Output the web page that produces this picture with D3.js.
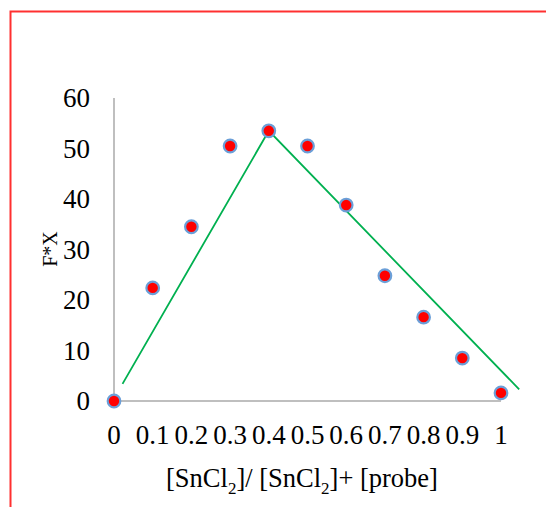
<!DOCTYPE html>
<html>
<head>
<meta charset="utf-8">
<style>
    body { margin: 0; background: white; }
    svg { display: block; font-family: 'Liberation Serif', 'Times New Roman', serif; }
</style>
</head>
<body>
<svg width="546" height="507"></svg>
<script src="https://d3js.org/d3.v7.min.js"></script>
<script>
    // measured points
    let xs = [0, 0.1, 0.2, 0.3, 0.4, 0.5, 0.6, 0.7, 0.8, 0.9, 1]
    let fx = [0, 22.4, 34.5, 50.5, 53.5, 50.5, 38.8, 24.8, 16.6, 8.5, 1.6]

    // fitted lines (start, peak, end)
    let fitX = [0.022, 0.4, 1.047]
    let fitY = [3.4, 53.5, 2.3]

    let yTicks = [0, 10, 20, 30, 40, 50, 60]
    let xTickLabels = ["0", "0.1", "0.2", "0.3", "0.4", "0.5", "0.6", "0.7", "0.8", "0.9", "1"]

    let svg = d3.select("svg")

    // red frame
    svg.append("path")
        .attr("d", "M10.5,507 L10.5,11.5 L546,11.5")
        .style("fill", "none")
        .style("stroke", "#ff3030")
        .style("stroke-width", 2)

    let x = d3.scaleLinear().domain([0, 1]).range([114, 501])
    let y = d3.scaleLinear().domain([0, 60]).range([401, 98])

    // axes
    svg.append("line")
        .attr("x1", x(0)).attr("x2", x(0))
        .attr("y1", y(0)).attr("y2", y(60))
        .style("stroke", "#bfbfbf").style("stroke-width", 2)

    svg.append("line")
        .attr("x1", x(0)).attr("x2", x(1))
        .attr("y1", y(0)).attr("y2", y(0))
        .style("stroke", "#bfbfbf").style("stroke-width", 2)

    svg.selectAll(".ytick")
        .data(yTicks)
        .join("text")
        .attr("x", 90)
        .attr("y", d => y(d))
        .attr("dy", "0.35em")
        .attr("text-anchor", "end")
        .style("font-size", "27px")
        .text(d => d)

    svg.selectAll(".xtick")
        .data(xTickLabels)
        .join("text")
        .attr("x", (d, i) => x(xs[i]))
        .attr("y", 435)
        .attr("dy", "0.35em")
        .attr("text-anchor", "middle")
        .style("font-size", "27px")
        .text(d => d)

    // titles
    svg.append("text")
        .attr("transform", "translate(50,249) rotate(-90)")
        .attr("text-anchor", "middle")
        .attr("dy", "0.35em")
        .style("font-size", "20px")
        .text("F*X")

    let title = svg.append("text")
        .attr("x", 302)
        .attr("y", 487)
        .attr("text-anchor", "middle")
        .style("font-size", "26.5px")
    title.append("tspan").text("[SnCl")
    title.append("tspan").attr("dy", 7).style("font-size", "17px").text("2")
    title.append("tspan").attr("dy", -7).text("]/ [SnCl")
    title.append("tspan").attr("dy", 7).style("font-size", "17px").text("2")
    title.append("tspan").attr("dy", -7).text("]+ [probe]")

    // fit line
    let line = d3.line()
        .x(d => x(d[0]))
        .y(d => y(d[1]))

    svg.append("path")
        .attr("d", line(fitX.map((v, i) => [v, fitY[i]])))
        .style("fill", "none")
        .style("stroke", "#00b050")
        .style("stroke-width", 1.8)

    // points
    svg.selectAll(".pt")
        .data(xs)
        .join("circle")
        .attr("cx", d => x(d))
        .attr("cy", (d, i) => y(fx[i]))
        .attr("r", 6.3)
        .style("fill", "#ff0000")
        .style("stroke", "#6b9fd8")
        .style("stroke-width", 2.2)
</script>
</body>
</html>
